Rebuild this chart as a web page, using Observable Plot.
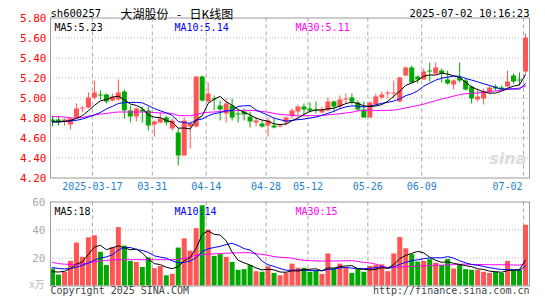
<!DOCTYPE html>
<html><head><meta charset="utf-8">
<script src="https://cdn.jsdelivr.net/npm/d3@7"></script>
<script src="https://cdn.jsdelivr.net/npm/@observablehq/plot@0.6"></script>
<style>
html,body{margin:0;padding:0;background:#fff;}
#chart{width:545px;height:300px;overflow:hidden;}
#chart svg{display:block;}
</style></head><body><div id="chart"></div>
<script>
// ---------- data ----------
const dates = ["03-06","03-07","03-10","03-11","03-12","03-13","03-14","03-17","03-18","03-19",
"03-20","03-21","03-24","03-25","03-26","03-27","03-28","03-31","04-01","04-02",
"04-03","04-07","04-08","04-09","04-10","04-11","04-14","04-15","04-16","04-17",
"04-18","04-21","04-22","04-23","04-24","04-25","04-28","04-29","04-30","05-06",
"05-07","05-08","05-09","05-12","05-13","05-14","05-15","05-16","05-19","05-20",
"05-21","05-22","05-23","05-26","05-27","05-28","05-29","05-30","06-03","06-04",
"06-05","06-06","06-09","06-10","06-11","06-12","06-13","06-16","06-17","06-18",
"06-19","06-20","06-23","06-24","06-25","06-26","06-27","06-30","07-01","07-02"];
const open = [4.78,4.78,4.76,4.73,4.80,4.89,4.90,5.00,5.03,5.03,
4.97,4.98,5.06,4.87,4.81,4.88,4.87,4.73,4.75,4.80,
4.69,4.65,4.42,4.71,4.71,5.21,4.96,4.99,4.92,4.84,
4.92,4.84,4.86,4.81,4.75,4.74,4.72,4.72,4.71,4.75,
4.82,4.86,4.91,4.89,4.88,4.85,4.87,4.96,4.91,4.98,
5.00,4.95,4.88,4.80,4.93,5.00,5.04,5.04,4.96,5.22,
5.30,5.21,5.18,5.27,5.24,5.27,5.18,5.13,5.20,5.17,
5.11,4.98,4.99,5.06,5.11,5.10,5.11,5.22,5.18,5.26];
const high = [4.82,4.81,4.79,4.80,4.94,4.91,5.05,5.17,5.07,5.04,
5.04,5.18,5.08,4.92,4.90,4.91,4.91,4.77,4.85,4.82,
4.79,4.69,4.80,4.76,5.21,5.22,5.15,5.02,4.97,4.99,
4.99,4.87,4.89,4.86,4.80,4.77,4.80,4.79,4.73,4.81,
4.89,4.93,4.94,4.95,4.96,4.91,5.00,4.97,5.02,5.04,
5.04,4.97,4.96,4.96,5.04,5.06,5.07,5.17,5.21,5.31,
5.32,5.22,5.29,5.35,5.35,5.29,5.27,5.18,5.35,5.19,
5.12,5.09,5.09,5.12,5.13,5.12,5.27,5.24,5.25,5.64];
const low = [4.71,4.72,4.72,4.68,4.79,4.85,4.89,4.98,4.98,4.94,
4.96,4.97,4.79,4.75,4.76,4.75,4.67,4.61,4.74,4.72,
4.67,4.32,4.42,4.49,4.70,4.96,4.95,4.87,4.77,4.75,
4.77,4.75,4.77,4.70,4.71,4.70,4.61,4.69,4.70,4.72,
4.79,4.81,4.82,4.85,4.84,4.84,4.87,4.85,4.89,4.94,
4.93,4.86,4.80,4.80,4.93,4.98,4.99,4.99,4.95,5.21,
5.14,5.14,5.18,5.16,5.23,5.15,5.13,5.08,5.15,5.07,
4.94,4.96,4.93,5.03,5.07,5.07,5.11,5.14,5.12,5.24];
const close = [4.76,4.76,4.78,4.79,4.89,4.90,5.00,5.05,5.02,4.96,
5.01,5.05,4.87,4.81,4.89,4.86,4.72,4.76,4.79,4.75,
4.77,4.42,4.77,4.74,5.21,4.97,5.04,4.98,4.88,4.94,
4.80,4.83,4.83,4.76,4.77,4.71,4.77,4.70,4.72,4.80,
4.87,4.91,4.88,4.87,4.87,4.88,4.96,4.91,4.98,4.99,
4.96,4.88,4.80,4.95,5.01,5.03,5.05,5.05,5.20,5.30,
5.15,5.18,5.26,5.26,5.30,5.24,5.14,5.17,5.17,5.08,
4.99,5.01,5.06,5.10,5.09,5.08,5.16,5.16,5.17,5.60];
const ma5 = [4.76,4.76,4.765,4.775,4.796,4.824,4.872,4.926,4.972,4.986,
5.008,5.018,4.982,4.94,4.926,4.896,4.83,4.808,4.804,4.776,
4.758,4.698,4.70,4.69,4.782,4.822,4.946,4.988,5.016,4.962,
4.928,4.886,4.856,4.832,4.798,4.78,4.768,4.742,4.734,4.74,
4.772,4.80,4.836,4.866,4.88,4.882,4.892,4.898,4.92,4.944,
4.96,4.944,4.922,4.916,4.92,4.934,4.968,5.018,5.068,5.126,
5.15,5.176,5.218,5.23,5.23,5.248,5.24,5.222,5.204,5.16,
5.11,5.084,5.062,5.048,5.05,5.068,5.098,5.118,5.132,5.234];
const ma10 = [4.763,4.763,4.767,4.77,4.777,4.79,4.81,4.83,4.855,4.891,
4.916,4.945,4.954,4.956,4.956,4.952,4.924,4.895,4.872,4.851,
4.827,4.764,4.754,4.747,4.779,4.79,4.822,4.844,4.853,4.872,
4.875,4.916,4.922,4.924,4.88,4.854,4.827,4.799,4.783,4.769,
4.776,4.784,4.789,4.80,4.81,4.827,4.846,4.867,4.893,4.912,
4.921,4.918,4.91,4.918,4.932,4.947,4.956,4.97,4.992,5.023,
5.042,5.072,5.118,5.149,5.178,5.199,5.208,5.22,5.217,5.195,
5.179,5.162,5.142,5.126,5.105,5.089,5.091,5.09,5.09,5.142];
const ma30 = [4.815,4.815,4.81,4.80,4.80,4.805,4.82,4.83,4.84,4.845,
4.855,4.86,4.86,4.86,4.86,4.86,4.86,4.855,4.85,4.85,
4.845,4.825,4.823,4.823,4.835,4.85,4.857,4.86,4.865,4.871,
4.873,4.875,4.877,4.876,4.872,4.865,4.858,4.846,4.836,4.831,
4.826,4.821,4.822,4.824,4.823,4.824,4.832,4.837,4.843,4.851,
4.857,4.873,4.874,4.881,4.874,4.876,4.876,4.879,4.889,4.901,
4.913,4.925,4.939,4.956,4.973,4.991,5.003,5.019,5.034,5.043,
5.047,5.051,5.057,5.064,5.072,5.078,5.085,5.093,5.10,5.12];
const volume = [12.2,7.8,9.8,17.6,30.7,20.5,34.4,35.9,24.1,14.6,
27.3,41.7,28.5,17.6,16.8,13.2,20.0,12.4,13.9,7.3,
8.3,27.1,33.7,24.9,41.0,57.3,40.0,21.2,22.4,20.5,
16.8,11.2,11.7,14.6,10.2,9.8,13.7,9.0,7.3,9.0,
15.6,12.7,12.7,9.8,10.7,8.3,22.9,12.2,15.6,12.7,
9.0,12.2,9.8,13.9,14.6,15.1,10.2,22.9,34.6,26.6,
22.4,17.1,17.6,18.8,16.3,14.6,19.0,12.2,15.1,11.7,
11.2,11.2,9.8,9.0,9.8,9.0,17.6,11.2,11.2,43.4];
const vma5 = [10.2,10.0,10.5,12.5,15.6,17.3,22.6,27.8,29.1,25.9,
27.3,28.7,27.2,25.9,26.4,23.6,19.2,16.0,15.3,13.4,
12.4,13.8,18.1,20.3,27.0,36.8,39.4,36.9,36.4,32.3,
24.2,18.4,16.5,15.0,12.9,11.5,12.0,11.5,10.0,9.8,
10.9,10.7,11.5,12.0,12.3,10.8,12.9,12.8,13.9,14.3,
14.5,12.3,11.9,11.5,11.9,13.1,12.7,15.3,19.5,21.9,
23.3,24.7,23.7,20.5,18.4,16.9,17.3,16.2,15.4,14.5,
13.8,12.3,11.8,10.6,10.2,9.8,11.0,11.3,11.8,18.5];
const vma10 = [13.2,12.5,12.2,12.5,13.5,14.8,16.5,18.5,20.0,20.8,
22.3,25.7,27.5,27.5,26.1,25.4,24.0,21.6,20.6,19.9,
18.0,16.5,17.0,17.8,20.2,24.6,26.6,27.5,28.3,29.6,
30.5,28.9,26.7,25.7,22.6,17.8,15.2,14.0,12.5,11.3,
11.2,11.4,11.5,11.0,11.0,10.9,11.8,12.1,13.0,13.3,
12.7,12.6,12.3,12.7,13.1,13.8,12.5,13.6,15.5,16.9,
18.2,18.7,19.5,20.0,20.2,20.1,21.0,19.9,18.0,16.5,
15.4,14.8,14.0,13.0,12.4,11.8,11.7,11.6,11.2,14.3];
const vma30 = [16.8,16.0,15.6,15.4,15.4,15.8,16.5,17.2,17.8,18.3,
18.6,18.8,18.8,18.8,18.8,18.8,18.8,18.8,18.8,18.8,
18.8,19.0,19.8,21.0,22.0,22.4,22.7,23.0,23.2,23.4,
23.6,23.7,23.8,23.7,23.0,22.6,21.9,21.0,20.5,20.3,
19.9,18.9,18.4,18.1,17.9,17.8,17.9,17.9,17.9,18.1,
18.1,17.6,16.8,16.5,15.6,14.2,13.2,13.2,13.6,13.8,
14.0,14.2,14.4,14.6,14.8,14.9,15.1,15.2,15.5,15.6,
15.4,15.4,15.3,15.2,15.2,15.2,15.1,15.0,14.9,15.9];
const dateTicks = ["03-17","03-31","04-14","04-28","05-12","05-26","06-09","07-02"];
const dateTickLabels = ["2025-03-17","03-31","04-14","04-28","05-12","05-26","06-09","07-02"];
const priceTicks = [4.20,4.40,4.60,4.80,5.00,5.20,5.40,5.60,5.80];
const volTicks = [20,40,60];
const symbol = "sh600257";
const title = "大湖股份\u2002\u2009-\u2002\u2009日K线图";
const stamp = "2025-07-02 10:16:23";
const maLabels = {ma5:"MA5:5.23", ma10:"MA10:5.14", ma30:"MA30:5.11"};
const vmaLabels = {ma5:"MA5:18", ma10:"MA10:14", ma30:"MA30:15"};

// ---------- build ----------
const rows = dates.map((d,i)=>({i, d, o:open[i], h:high[i], l:low[i], c:close[i], v:volume[i],
  ma5:ma5[i], ma10:ma10[i], ma30:ma30[i], vma5:vma5[i], vma10:vma10[i], vma30:vma30[i],
  up: close[i] >= open[i]}));
const ups = rows.filter(r=>r.up), downs = rows.filter(r=>!r.up);
const tickIdx = dateTicks.map(t=>dates.indexOf(t));
const N = dates.length;
const RED = "#ff5555", GREEN = "#00a800";
const MONO = "'DejaVu Sans Mono', monospace";
const CJK = "'Noto Sans CJK SC', sans-serif";
const GRID_H = "#b4b4b4", GRID_V = "#aaaaaa", FRAME = "#999999";
const mid = d => d.i + 2/6;

const topPlot = Plot.plot({
  width:545, height:190, marginLeft:50, marginRight:16, marginTop:17.5, marginBottom:12.5,
  style:{fontFamily:MONO, fontSize:"10px", background:"#fff", overflow:"visible"},
  x:{domain:[0,N], axis:null},
  y:{domain:[4.2,5.8], axis:null},
  marks:[
    Plot.ruleY(priceTicks.slice(1,-1), {stroke:GRID_H, strokeDasharray:"1,2"}),
    Plot.ruleX(tickIdx, {stroke:GRID_V, strokeDasharray:"4,3"}),
    Plot.text(["sina"], {frameAnchor:"bottom-right", dx:-3, dy:-14, textAnchor:"end", fill:"#dcdcdc", fontSize:16, fontWeight:"bold", fontStyle:"italic", fontFamily:"'DejaVu Sans', sans-serif"}),
    Plot.ruleX(ups, {x:mid, y1:"l", y2:"h", stroke:RED}),
    Plot.ruleX(downs, {x:mid, y1:"l", y2:"h", stroke:GREEN}),
    Plot.rect(ups, {x1:"i", x2:d=>d.i+5/6, y1:"o", y2:"c", fill:RED}),
    Plot.rect(downs, {x1:"i", x2:d=>d.i+5/6, y1:"o", y2:"c", fill:GREEN}),
    Plot.line(rows, {x:mid, y:"ma30", stroke:"#ff00ff", strokeWidth:1}),
    Plot.line(rows, {x:mid, y:"ma10", stroke:"#0000ff", strokeWidth:1}),
    Plot.line(rows, {x:mid, y:"ma5", stroke:"#000000", strokeWidth:1}),
    Plot.frame({stroke:FRAME}),
    Plot.text(priceTicks, {x:0, y:d=>d, text:d=>d.toFixed(2), textAnchor:"end", dx:-4, fill:"#ff0000", fontSize:11}),
    Plot.text(tickIdx.slice(0,-1), {x:d=>d, y:4.2, text:(d,k)=>dateTickLabels[k], dy:9, fill:"#1f7fd0"}),
    Plot.text(tickIdx.slice(-1), {x:d=>d, y:4.2, text:()=>dateTickLabels[dateTickLabels.length-1], dy:9, dx:-1, textAnchor:"end", fill:"#1f7fd0"}),
    Plot.text([symbol], {frameAnchor:"top-left", dy:-8, textAnchor:"start", fill:"#000", fontSize:10.5}),
    Plot.text([title], {frameAnchor:"top-left", dx:70, dy:-8, textAnchor:"start", fill:"#000", fontSize:12, fontFamily:CJK}),
    Plot.text([stamp], {frameAnchor:"top-right", dy:-8, textAnchor:"end", fill:"#000", fontSize:10.5}),
    Plot.text([maLabels.ma5], {frameAnchor:"top-left", dx:4, dy:6, textAnchor:"start", fill:"#000"}),
    Plot.text([maLabels.ma10], {frameAnchor:"top-left", dx:124, dy:6, textAnchor:"start", fill:"#0000ff"}),
    Plot.text([maLabels.ma30], {frameAnchor:"top-left", dx:245, dy:6, textAnchor:"start", fill:"#ff00ff"})
  ]
});

const volPlot = Plot.plot({
  width:545, height:110, marginLeft:50, marginRight:16, marginTop:11.5, marginBottom:14.5,
  style:{fontFamily:MONO, fontSize:"10px", background:"#fff", overflow:"visible"},
  x:{domain:[0,N], axis:null},
  y:{domain:[0,60], axis:null},
  marks:[
    Plot.ruleY([20,40], {stroke:GRID_H, strokeDasharray:"1,2"}),
    Plot.ruleX(tickIdx, {stroke:GRID_V, strokeDasharray:"4,3"}),
    Plot.rect(ups, {x1:"i", x2:d=>d.i+5/6, y1:0, y2:"v", fill:RED}),
    Plot.rect(downs, {x1:"i", x2:d=>d.i+5/6, y1:0, y2:"v", fill:GREEN}),
    Plot.line(rows, {x:mid, y:"vma30", stroke:"#ff00ff", strokeWidth:1}),
    Plot.line(rows, {x:mid, y:"vma10", stroke:"#0000ff", strokeWidth:1}),
    Plot.line(rows, {x:mid, y:"vma5", stroke:"#000000", strokeWidth:1}),
    Plot.frame({stroke:FRAME}),
    Plot.text(volTicks, {x:0, y:d=>d, text:d=>String(d), textAnchor:"end", dx:-5, fill:"#aaaaaa", fontSize:11}),
    Plot.text(["x万"], {frameAnchor:"bottom-left", dx:-6, dy:2, textAnchor:"end", fill:"#bbbbbb", fontSize:10, fontFamily:CJK}),
    Plot.text([vmaLabels.ma5], {frameAnchor:"top-left", dx:4, dy:6, textAnchor:"start", fill:"#000"}),
    Plot.text([vmaLabels.ma10], {frameAnchor:"top-left", dx:124, dy:6, textAnchor:"start", fill:"#0000ff"}),
    Plot.text([vmaLabels.ma30], {frameAnchor:"top-left", dx:245, dy:6, textAnchor:"start", fill:"#ff00ff"}),
    Plot.text(["Copyright 2025 SINA.COM"], {frameAnchor:"bottom-left", dy:8, textAnchor:"start", fill:"#444"}),
    Plot.text(["http://finance.sina.com.cn"], {frameAnchor:"bottom-right", dy:8, textAnchor:"end", fill:"#444"})
  ]
});

const el = document.getElementById("chart");
el.appendChild(topPlot);
el.appendChild(volPlot);
</script></body></html>
